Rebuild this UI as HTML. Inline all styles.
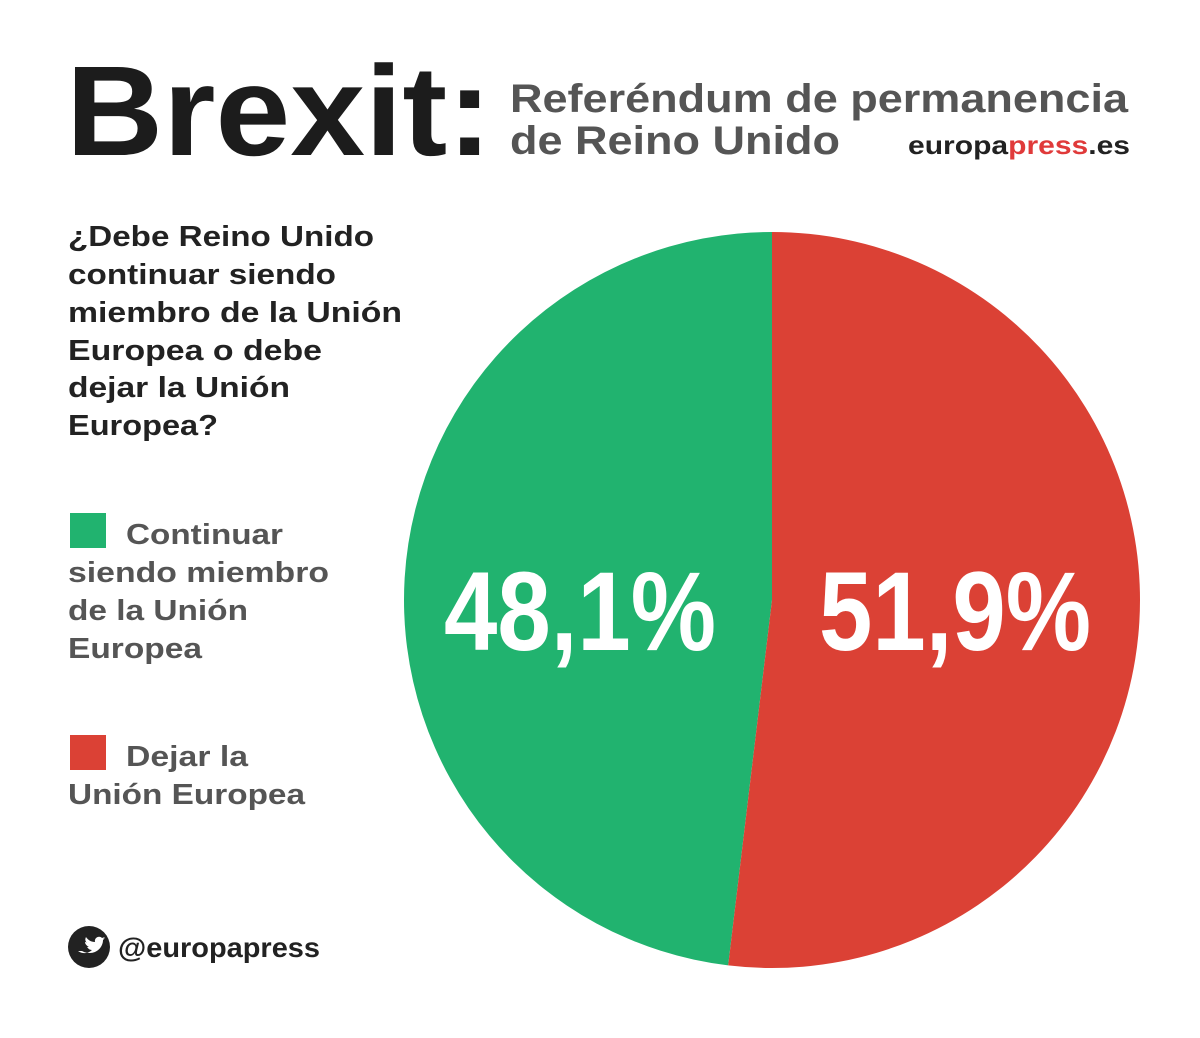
<!DOCTYPE html>
<html><head><meta charset="utf-8"><style>
html,body{margin:0;padding:0;background:#fff;}
svg{display:block;font-family:"Liberation Sans",sans-serif;font-weight:bold;}
</style></head><body>
<svg width="1200" height="1038" viewBox="0 0 1200 1038">
<g>
<text x="66" y="155" font-size="128" fill="#1c1c1c" textLength="426" lengthAdjust="spacingAndGlyphs">Brexit:</text>
<text x="510" y="112" font-size="40" fill="#555" textLength="618" lengthAdjust="spacingAndGlyphs">Referéndum de permanencia</text>
<text x="510" y="154" font-size="40" fill="#555" textLength="330" lengthAdjust="spacingAndGlyphs">de Reino Unido</text>
<text x="908" y="154" font-size="26" fill="#222" textLength="222" lengthAdjust="spacingAndGlyphs">europa<tspan fill="#e03a3a">press</tspan>.es</text>
</g>
<g font-size="29" fill="#222">
<text x="68" y="246" textLength="306" lengthAdjust="spacingAndGlyphs">¿Debe Reino Unido</text>
<text x="68" y="284" textLength="268" lengthAdjust="spacingAndGlyphs">continuar siendo</text>
<text x="68" y="322" textLength="334" lengthAdjust="spacingAndGlyphs">miembro de la Unión</text>
<text x="68" y="360" textLength="254" lengthAdjust="spacingAndGlyphs">Europea o debe</text>
<text x="68" y="397" textLength="222" lengthAdjust="spacingAndGlyphs">dejar la Unión</text>
<text x="68" y="435" textLength="150" lengthAdjust="spacingAndGlyphs">Europea?</text>
</g>
<g font-size="29" fill="#555">
<g>
<rect x="70" y="513" width="36" height="35" fill="#21b36f"/>
<text x="126" y="544" textLength="157" lengthAdjust="spacingAndGlyphs">Continuar</text>
<text x="68" y="582" textLength="261" lengthAdjust="spacingAndGlyphs">siendo miembro</text>
<text x="68" y="620" textLength="180" lengthAdjust="spacingAndGlyphs">de la Unión</text>
<text x="68" y="658" textLength="134" lengthAdjust="spacingAndGlyphs">Europea</text>
</g>
<g>
<rect x="70" y="735" width="36" height="35" fill="#db4135"/>
<text x="126" y="766" textLength="122" lengthAdjust="spacingAndGlyphs">Dejar la</text>
<text x="68" y="804" textLength="237" lengthAdjust="spacingAndGlyphs">Unión Europea</text>
</g>
</g>
<g>
<circle cx="89" cy="947" r="21" fill="#222"/>
<path d="M78 951c4 3 10 3 14-1-3 0-4-2-5-3h2c-2-1-4-3-4-5 1 0 2 1 2 1-2-2-2-4-1-6 2 3 5 5 9 5-1-4 4-7 7-4l3-1-2 2 2-1-2 2c0 7-6 13-13 13-4 0-6-1-8-2z" fill="#fff"/>
<text x="118" y="957" font-size="28" fill="#222" textLength="202" lengthAdjust="spacingAndGlyphs">@europapress</text>
</g>
<g id="pie"></g>
</svg>
<script>
const categories = ["Continuar", "Dejar"];
const values = [48.1, 51.9];
const valueLabels = ["48,1%", "51,9%"];
const colors = ["#21b36f", "#db4135"];
const cx = 772, cy = 600, r = 368;
const NS = "http://www.w3.org/2000/svg";
const g = document.getElementById("pie");
const total = values.reduce((a, b) => a + b, 0);
// Dejar starts at top going clockwise; Continuar fills the rest
const order = [1, 0];
let start = 0;
const angles = {};
order.forEach(i => {
  const sweep = values[i] / total * 2 * Math.PI;
  angles[i] = [start, start + sweep];
  start += sweep;
});
function pt(a) { return [cx + r * Math.sin(a), cy - r * Math.cos(a)]; }
[0, 1].forEach(i => {
  const [a0, a1] = angles[i];
  const p0 = pt(a0), p1 = pt(a1);
  const large = (a1 - a0) > Math.PI ? 1 : 0;
  const p = document.createElementNS(NS, "path");
  p.setAttribute("d", `M${cx},${cy}L${p0[0]},${p0[1]}A${r},${r} 0 ${large} 1 ${p1[0]},${p1[1]}Z`);
  p.setAttribute("fill", colors[i]);
  
  
  g.appendChild(p);
});
[0, 1].forEach(i => {
  const t = document.createElementNS(NS, "text");
  const x = i === 0 ? 580 : 955;
  t.setAttribute("x", x);
  t.setAttribute("y", 650);
  t.setAttribute("text-anchor", "middle");
  t.setAttribute("font-size", "112");
  t.setAttribute("fill", "#fff");
  t.setAttribute("textLength", "272");
  t.setAttribute("lengthAdjust", "spacingAndGlyphs");
  t.textContent = valueLabels[i];
  
  
  g.appendChild(t);
});
</script>
</body></html>
